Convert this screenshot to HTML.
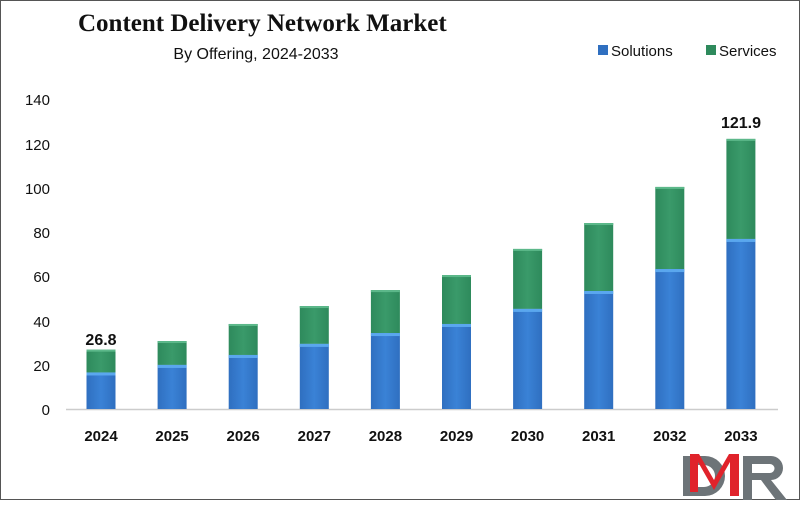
<!DOCTYPE html>
<html><head><meta charset="utf-8"><style>
html,body{margin:0;padding:0;background:#fff}
body{width:800px;height:500px;overflow:hidden}
</style></head><body>
<svg width="800" height="500" viewBox="0 0 800 500" xmlns="http://www.w3.org/2000/svg">
<defs>
<linearGradient id="b" x1="0" x2="1"><stop offset="0" stop-color="#2f6fc0"/><stop offset="0.5" stop-color="#3a82d6"/><stop offset="1" stop-color="#2f6fc0"/></linearGradient>
<linearGradient id="g" x1="0" x2="1"><stop offset="0" stop-color="#2e8a5c"/><stop offset="0.5" stop-color="#3a9a6a"/><stop offset="1" stop-color="#2e8a5c"/></linearGradient>
</defs>
<rect x="0.5" y="0.5" width="799" height="499" fill="#fff" stroke="#555"/>
<text x="78" y="31" font-family="Liberation Serif, serif" font-weight="bold" font-size="25" fill="#111">Content Delivery Network Market</text>
<text x="256" y="59" text-anchor="middle" font-family="Liberation Sans, sans-serif" font-size="16" fill="#111">By Offering, 2024-2033</text>
<rect x="598" y="45" width="10" height="10" fill="#2f6fc0"/>
<text x="611" y="56" font-family="Liberation Sans, sans-serif" font-size="15" fill="#111">Solutions</text>
<rect x="706" y="45" width="10" height="10" fill="#2e8a5c"/>
<text x="719" y="56" font-family="Liberation Sans, sans-serif" font-size="15" fill="#111">Services</text>
<g font-family="Liberation Sans, sans-serif" font-size="15" fill="#111" text-anchor="end">
<text x="50" y="415">0</text><text x="50" y="371">20</text><text x="50" y="327">40</text><text x="50" y="282">60</text><text x="50" y="238">80</text><text x="50" y="194">100</text><text x="50" y="150">120</text><text x="50" y="105">140</text>
</g>
<line x1="66" y1="409.5" x2="778" y2="409.5" stroke="#ccc" stroke-width="1.5"/>
<g id="bars"></g>
<g font-family="Liberation Sans, sans-serif" font-weight="bold" font-size="15" fill="#111" text-anchor="middle" id="labs"></g>
<text x="101" y="345" text-anchor="middle" font-family="Liberation Sans, sans-serif" font-weight="bold" font-size="16" fill="#111">26.8</text>
<text x="741" y="128" text-anchor="middle" font-family="Liberation Sans, sans-serif" font-weight="bold" font-size="16" fill="#111">121.9</text>
<g>
<path d="M683 456 h22 a20 20 0 0 1 0 40 h-22 z M694 465 v22 h10 a11 11 0 0 0 0 -22 z" fill="#6d7478" fill-rule="evenodd"/>
<path d="M690 492 h8 v-30 l16 28 l16 -28 v34 h9 v-42 h-10 l-15 26 l-15 -26 h-9 z" fill="#e0232b"/>
<path d="M743 456 h28 a12 12 0 0 1 0 24 l16 20 h-11 l-15 -20 h-9 v20 h-9 z M752 464 v9 h18 a4.5 4.5 0 0 0 0 -9 z" fill="#6d7478" fill-rule="evenodd"/>
</g>
</svg>
<script>
var d=[[16.5,26.8],[19.9,30.7],[24.4,38.4],[29.4,46.5],[34.3,53.7],[38.4,60.5],[45.2,72.3],[53.3,84],[63.2,100.3],[76.8,122]];
var s=2.214,base=409,bars='',labs='';
for(var i=0;i<10;i++){var cx=101+i*71.1,x=cx-14.5,ys=base-d[i][0]*s,yt=base-d[i][1]*s;
bars+='<rect x="'+x+'" y="'+yt+'" width="29" height="'+(ys-yt)+'" fill="url(#g)"/>';
bars+='<rect x="'+x+'" y="'+ys+'" width="29" height="'+(base-ys)+'" fill="url(#b)"/>';
bars+='<rect x="'+x+'" y="'+ys+'" width="29" height="3" fill="#5aa7ee"/>';
bars+='<rect x="'+x+'" y="'+yt+'" width="29" height="2" fill="#5cb88a"/>';
labs+='<text x="'+cx+'" y="441">'+(2024+i)+'</text>';}
document.getElementById('bars').innerHTML=bars;document.getElementById('labs').innerHTML=labs;
</script>
</body></html>
